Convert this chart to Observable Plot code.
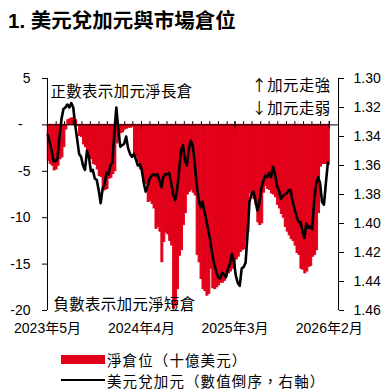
<!DOCTYPE html>
<html>
<head>
<meta charset="utf-8">
<script src="https://cdn.jsdelivr.net/npm/d3@7"></script>
<script src="https://cdn.jsdelivr.net/npm/@observablehq/plot@0.6"></script>
<style>
  body { margin: 0; background: #fff; width: 387px; height: 391px; position: relative; overflow: hidden; }
  #title { position: absolute; left: 8px; top: 4px; font: bold 20.5px "Liberation Sans", "Noto Sans CJK TC", sans-serif; color: #000; white-space: nowrap; }
  #chart { position: absolute; left: 0; top: 40px; }
  #legend { position: absolute; left: 61px; top: 348.5px; font: 14.5px "Noto Sans CJK TC", sans-serif; color: #000; letter-spacing: 1.1px; }
  .row { display: flex; align-items: center; height: 21px; white-space: nowrap; }
  .sw { width: 44px; margin-right: 2px; }
</style>
</head>
<body>
<div id="title">1. 美元兌加元與市場倉位</div>
<div id="chart"></div>
<div id="legend">
  <div class="row"><div class="sw" style="height:9px;background:#E2001A"></div><span>淨倉位（十億美元）</span></div>
  <div class="row"><div class="sw" style="height:2.5px;background:#000"></div><span>美元兌加元（數值倒序，右軸）</span></div>
</div>
<script>
// ---- data (weekly, starting 2023-05-02) ----
const startDate = "2023-05-02";
const netPosition = [
  -3.9,-4.2,-4.4,-4.9,-4.8,-4.4,-3.7,-3.5,-2.4,-0.5,
  0.5,0.6,0.7,0.7,0.5,-0.1,-1.2,-1.3,-2.1,-2.4,
  -2.8,-3.6,-3.7,-4.2,-4.3,-4.8,-5.5,-5.6,-7.1,-7.0,
  -6.9,-5.8,-5.7,-5.3,-5.0,-2.0,-1.4,-0.9,-0.8,-0.5,
  -0.4,-0.3,-0.3,-0.2,-3.3,-3.5,-4.0,-4.8,-5.3,-6.2,
  -6.4,-8.3,-8.2,-8.5,-9.0,-11.2,-11.0,-11.5,-14.8,-12.6,
  -11.6,-11.8,-12.5,-13.0,-19.8,-19.5,-17.7,-14.1,-13.5,-10.8,
  -9.5,-7.5,-7.2,-7.0,-7.3,-7.6,-14.0,-14.8,-16.6,-17.7,
  -17.9,-18.4,-18.2,-15.5,-17.6,-17.7,-17.5,-17.3,-17.0,-17.0,
  -16.8,-16.3,-16.0,-15.8,-15.5,-15.3,-14.5,-14.2,-13.7,-13.5,
  -13.4,-12.5,-11.5,-7.4,-7.3,-8.0,-8.6,-10.5,-10.8,-10.6,
  -7.3,-6.6,-6.9,-7.0,-7.4,-7.5,-7.8,-8.6,-9.0,-9.6,
  -10.0,-11.0,-11.5,-11.9,-12.3,-12.5,-13.0,-13.8,-14.0,-15.5,
  -15.6,-16.0,-15.8,-15.3,-15.2,-14.2,-14.0,-13.5,-9.5,-4.5,
  -4.2,-4.2,-4.2,-4.3
];
const usdcad = [
  1.339,1.344,1.350,1.357,1.357,1.355,1.340,1.328,1.321,1.320,
  1.318,1.320,1.317,1.320,1.332,1.342,1.352,1.354,1.360,1.363,
  1.350,1.354,1.364,1.363,1.369,1.370,1.377,1.386,1.376,1.373,
  1.365,1.366,1.360,1.358,1.337,1.320,1.335,1.347,1.346,1.345,
  1.340,1.348,1.352,1.354,1.352,1.356,1.360,1.359,1.363,1.372,
  1.378,1.374,1.369,1.367,1.366,1.367,1.366,1.370,1.375,1.368,
  1.366,1.366,1.365,1.372,1.380,1.384,1.377,1.364,1.350,1.346,
  1.356,1.360,1.349,1.343,1.346,1.358,1.373,1.383,1.389,1.385,
  1.392,1.398,1.405,1.412,1.422,1.428,1.433,1.437,1.438,1.434,
  1.435,1.437,1.431,1.428,1.421,1.426,1.436,1.441,1.443,1.431,
  1.430,1.427,1.407,1.385,1.380,1.378,1.384,1.391,1.386,1.376,
  1.371,1.367,1.368,1.365,1.368,1.361,1.366,1.374,1.377,1.383,
  1.381,1.380,1.379,1.377,1.377,1.385,1.390,1.395,1.399,1.399,
  1.405,1.410,1.400,1.403,1.402,1.404,1.384,1.373,1.368,1.372,
  1.385,1.387,1.372,1.358
];
const leftTicks = [5, 0, -5, -10, -15, -20];
const rightTicks = [1.30, 1.32, 1.34, 1.36, 1.38, 1.40, 1.42, 1.44, 1.46];
const labelMonths = ["2023-05-01", "2024-04-01", "2025-03-01", "2026-02-01"];
const xDomain = ["2023-05-01", "2026-03-06"];
const notes = {
  pos: "正數表示加元淨長倉",
  neg: "負數表示加元淨短倉",
  up: "↑加元走強",
  down: "↓加元走弱"
};

// ---- build ----
const start = new Date(startDate);
const bars = netPosition.map((v, i) => ({date: d3.utcDay.offset(start, 7 * i), v}));
const line = usdcad.map((r, i) => ({date: d3.utcDay.offset(start, 7 * i), r}));
// right axis (inverted: 1.30 at top, 1.46 at bottom) mapped onto the left scale
const rTop = 1.30, rBot = 1.46, lTop = 5, lBot = -20;
const toL = r => lTop + (r - rTop) / (rBot - rTop) * (lBot - lTop);
const toR = l => rTop + (l - lTop) / (lBot - lTop) * (rBot - rTop);
const xd = xDomain.map(d => new Date(d));
const months = d3.utcMonth.range(d3.utcMonth.offset(xd[0], 1), new Date("2026-02-02"));
const majors = labelMonths.map(d => new Date(d));

const red = "#E2001A";
const noteStyle = {lineAnchor: "middle", fontSize: 15.4, fill: "#000", fontFamily: "Noto Sans CJK TC"};
const chart = Plot.plot({
  width: 387,
  height: 300,
  marginLeft: 47,
  marginRight: 49,
  marginTop: 38,
  marginBottom: 30,
  style: {fontFamily: "'Liberation Sans', 'Noto Sans CJK TC', sans-serif", fontSize: "14px", color: "#000", background: "transparent"},
  x: {type: "utc", domain: xd},
  y: {domain: [lBot, lTop]},
  marks: [
    Plot.rect(bars, {x1: "date", x2: d => d3.utcDay.offset(d.date, 7), y1: 0, y2: "v", fill: red, stroke: red, strokeWidth: 1}),
    Plot.ruleY([0], {stroke: "#000", strokeWidth: 1}),
    Plot.ruleX(months, {y1: 0, y2: 0.35, stroke: "#000"}),
    Plot.ruleX(majors, {y1: 0.35, y2: -0.45, stroke: "#000"}),
    Plot.ruleX(xd, {stroke: "#000", strokeWidth: 1}),
    Plot.line(line, {x: "date", y: d => toL(d.r), stroke: "#000", strokeWidth: 2.6}),
    Plot.axisY(leftTicks, {anchor: "left", tickSize: 5, tickPadding: 12, label: null,
      tickFormat: d => d === 0 ? "-\u00a0\u00a0" : String(d)}),
    Plot.axisY(rightTicks.map(toL), {anchor: "right", tickSize: 5, tickPadding: 10, label: null,
      tickFormat: d => toR(d).toFixed(2)}),
    Plot.axisX(majors, {anchor: "bottom", tickSize: 0, tickPadding: 13, label: null,
      tickFormat: d => `${d.getUTCFullYear()}年${d.getUTCMonth() + 1}月`}),
    Plot.text([notes.pos], {frameAnchor: "top-left", dx: 3, dy: 14, textAnchor: "start", ...noteStyle}),
    Plot.text([notes.neg], {frameAnchor: "bottom-left", dx: 6, dy: -5, textAnchor: "start", ...noteStyle}),
    Plot.text([notes.up], {frameAnchor: "top-right", dx: -8, dy: 8, textAnchor: "end", ...noteStyle}),
    Plot.text([notes.down], {frameAnchor: "top-right", dx: -8, dy: 30.5, textAnchor: "end", ...noteStyle})
  ]
});
// keep the annotation glyph spacing close to the reference
chart.querySelectorAll("text").forEach(t => {
  if (Object.values(notes).includes(t.textContent)) t.setAttribute("letter-spacing", "0.4");
});
document.getElementById("chart").appendChild(chart);
</script>
</body>
</html>
